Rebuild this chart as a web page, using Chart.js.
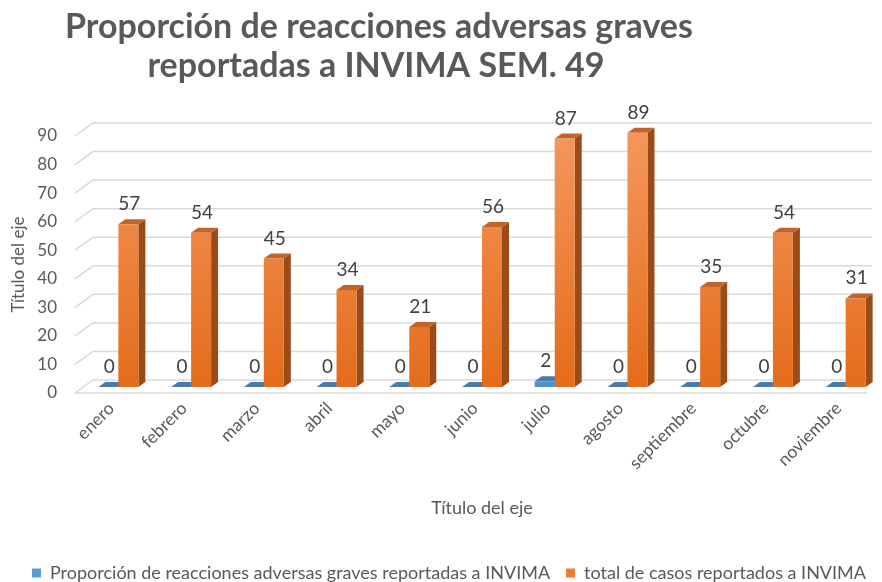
<!DOCTYPE html>
<html>
<head>
<meta charset="utf-8">
<script src="https://cdn.jsdelivr.net/npm/chart.js@4.4.1/dist/chart.umd.min.js"></script>
<style>
  html, body { margin: 0; padding: 0; background: #fff; }
</style>
</head>
<body>
<canvas id="chart" width="882" height="582"></canvas>
<script>
const months = ['enero', 'febrero', 'marzo', 'abril', 'mayo', 'junio', 'julio', 'agosto', 'septiembre', 'octubre', 'noviembre'];
const graves = [0, 0, 0, 0, 0, 0, 2, 0, 0, 0, 0];
const totales = [57, 54, 45, 34, 21, 56, 87, 89, 35, 54, 31];
const yTicks = [0, 10, 20, 30, 40, 50, 60, 70, 80, 90];
const titleLines = ['Proporción de reacciones adversas graves', 'reportadas a INVIMA SEM. 49'];

const FONT = 'Lato, "Open Sans", sans-serif';
const GREY = '#595959';

// colours for the fake 3d faces
const faces = [
  { top: '#4A7BAA', side: '#3C6895' },
  { top: '#C1642B', side: '#9B4B18' }
];
const DX = 7, DY = 5;          // bar depth
const SHIFT = -6;              // bars sit a bit behind the front edge
const WALL = { fx: -7, bx: 11, by: -13 };

const threeD = {
  id: 'threeD',
  beforeDatasetsDraw(chart) {
    const { ctx, chartArea, scales } = chart;
    const y = scales.y;
    // back wall grid lines + floor
    ctx.save();
    ctx.strokeStyle = '#D9D9D9';
    ctx.lineWidth = 1.5;
    yTicks.forEach(v => {
      const py = y.getPixelForValue(v);
      ctx.beginPath();
      ctx.moveTo(chartArea.left + WALL.fx, py);
      ctx.lineTo(chartArea.left + WALL.bx, py + WALL.by);
      ctx.lineTo(chartArea.right - 10, py + WALL.by);
      ctx.stroke();
    });
    const p0 = y.getPixelForValue(0);
    ctx.beginPath();
    ctx.moveTo(chartArea.left + WALL.fx, p0);
    ctx.lineTo(chartArea.right - 15, p0);
    ctx.stroke();
    ctx.restore();

    // side and top faces, drawn before the fronts so the fronts cover overlaps
    ctx.save();
    ctx.translate(0, SHIFT);
    chart.data.datasets.forEach((ds, di) => {
      const meta = chart.getDatasetMeta(di);
      meta.data.forEach(bar => {
        const { x, y: top, base, width } = bar.getProps(['x', 'y', 'base', 'width'], true);
        const l = x - width / 2, r = x + width / 2;
        ctx.fillStyle = faces[di].side;
        ctx.beginPath();
        ctx.moveTo(r, top);
        ctx.lineTo(r + DX, top - DY);
        ctx.lineTo(r + DX, base - DY);
        ctx.lineTo(r, base);
        ctx.closePath();
        ctx.fill();
        ctx.fillStyle = faces[di].top;
        ctx.beginPath();
        ctx.moveTo(l, top);
        ctx.lineTo(l + DX, top - DY);
        ctx.lineTo(r + DX, top - DY);
        ctx.lineTo(r, top);
        ctx.closePath();
        ctx.fill();
      });
    });
    // keep the shift for the library's own front faces, undone in afterDatasetsDraw
  },
  afterDatasetsDraw(chart) {
    const { ctx } = chart;
    ctx.restore();
    ctx.save();
    ctx.translate(0, SHIFT);
    ctx.fillStyle = '#404040';
    ctx.font = '19px ' + FONT;
    ctx.textAlign = 'center';
    ctx.textBaseline = 'alphabetic';
    chart.data.datasets.forEach((ds, di) => {
      const meta = chart.getDatasetMeta(di);
      meta.data.forEach((bar, i) => {
        const { x, y } = bar.getProps(['x', 'y'], true);
        ctx.fillText(String(ds.data[i]), x + 1, y - DY - 9);
      });
    });
    ctx.restore();
  },
  afterDraw(chart) {
    const { ctx } = chart;
    ctx.save();
    ctx.fillStyle = GREY;
    ctx.font = 'bold 34px ' + FONT;
    ctx.textAlign = 'center';
    ctx.textBaseline = 'middle';
    ctx.fillText(titleLines[0], 379, 27);
    ctx.fillText(titleLines[1], 376, 66);
    ctx.restore();
  }
};

function frontFill(di) {
  return (c) => {
    const area = c.chart.chartArea;
    if (!area) return di ? '#ED7D31' : '#5B9BD5';
    const g = c.chart.ctx.createLinearGradient(0, area.top, 0, area.bottom);
    if (di) {
      g.addColorStop(0, '#F4975E');
      g.addColorStop(1, '#E46C1A');
    } else {
      g.addColorStop(0, '#6AA7DE');
      g.addColorStop(1, '#4F8FCB');
    }
    return g;
  };
}

new Chart(document.getElementById('chart'), {
  type: 'bar',
  plugins: [threeD],
  data: {
    labels: months,
    datasets: [
      {
        label: 'Proporción de reacciones adversas graves reportadas a INVIMA',
        data: graves,
        backgroundColor: frontFill(0),
        borderWidth: 0
      },
      {
        label: 'total de casos reportados a INVIMA',
        data: totales,
        backgroundColor: frontFill(1),
        borderWidth: 0
      }
    ]
  },
  options: {
    responsive: false,
    animation: false,
    layout: { padding: { top: 136, right: 0, bottom: -10, left: 0 } },
    datasets: { bar: { barPercentage: 1, categoryPercentage: 0.55 } },
    plugins: {
      tooltip: { enabled: false },
      title: { display: false },
      legend: {
        position: 'bottom',
        align: 'end',
        labels: {
          color: GREY,
          font: { family: FONT, size: 18 },
          boxWidth: 9,
          boxHeight: 9,
          padding: 16,
          generateLabels(chart) {
            const cols = ['#5B9BD5', '#ED7D31'];
            return chart.data.datasets.map((ds, i) => ({
              text: ds.label, fillStyle: cols[i], strokeStyle: cols[i],
              lineWidth: 0, datasetIndex: i, hidden: false, fontColor: GREY
            }));
          }
        }
      }
    },
    scales: {
      x: {
        grid: { display: false, drawTicks: false },
        border: { display: false },
        ticks: {
          color: GREY,
          font: { family: FONT, size: 17.5 },
          minRotation: 45,
          maxRotation: 45,
          padding: 5,
          labelOffset: -7
        },
        title: {
          display: true,
          text: 'Título del eje',
          color: GREY,
          font: { family: FONT, size: 18 },
          padding: { top: 4, bottom: 29 }
        },
        afterFit(s) { s.height = 155; }
      },
      y: {
        min: 0,
        max: 90,
        grid: { display: false, drawTicks: false },
        border: { display: false },
        ticks: {
          stepSize: 10,
          color: GREY,
          font: { family: FONT, size: 17 },
          padding: 25
        },
        title: {
          display: true,
          text: 'Título del eje',
          color: GREY,
          font: { family: FONT, size: 17 },
          padding: { top: 8, bottom: 0 }
        },
        afterFit(s) { s.width = 82; }
      }
    }
  }
});
</script>
</body>
</html>
